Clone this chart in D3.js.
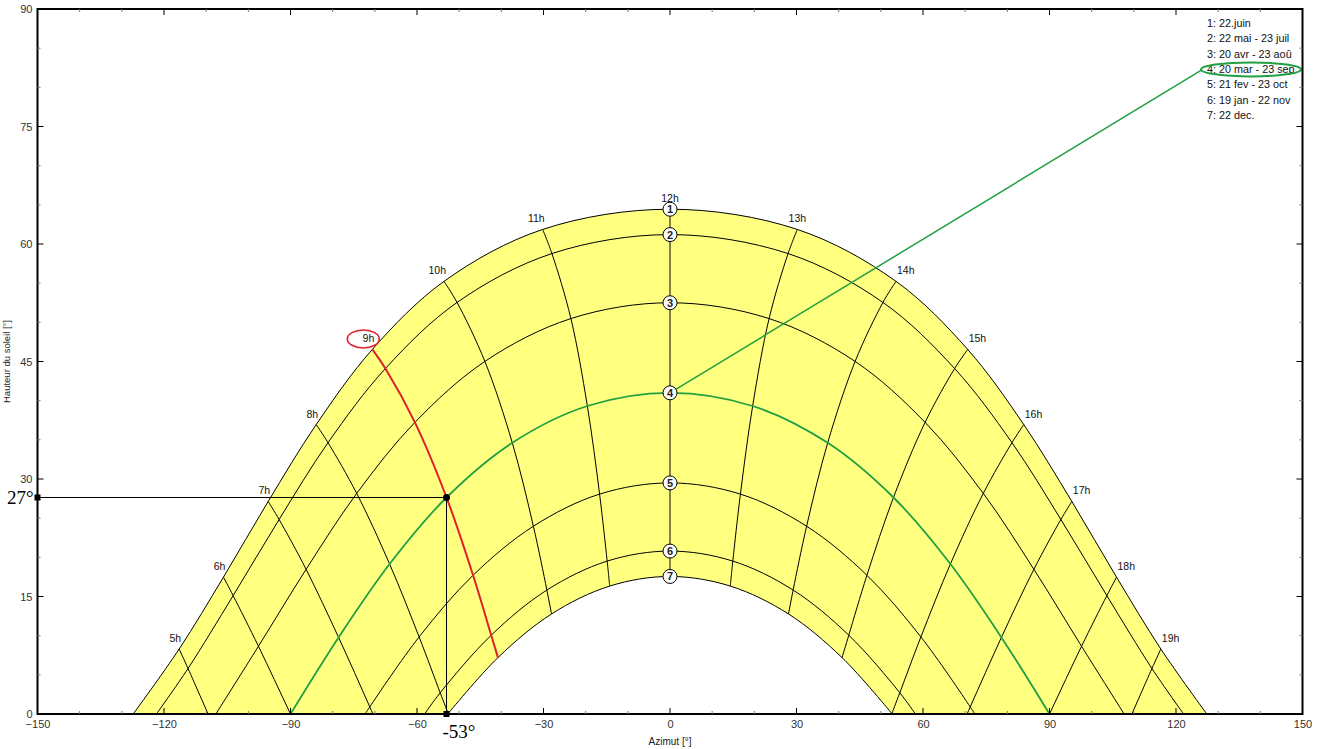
<!DOCTYPE html>
<html><head><meta charset="utf-8">
<script src="https://cdn.jsdelivr.net/npm/d3@7"></script>
<style>body{margin:0;background:#fff}svg{display:block}</style>
</head><body>
<svg id="c" width="1320" height="749"></svg>
<script>
// ---- data ----
const hourNames = ["5h","6h","7h","8h","9h","10h","11h","12h","13h","14h","15h","16h","17h","18h","19h"];
const curveNumbers = ["1","2","3","4","5","6","7"];
const legendLabels = ["1: 22.juin","2: 22 mai - 23 juil","3: 20 avr - 23 aoû","4: 20 mar - 23 sep","5: 21 fev - 23 oct","6: 19 jan - 22 nov","7: 22 dec."];
const azJun  = [-116.4,-105.9,-95.3,-83.9,-70.6,-53.6,-30.2,0,30.2,53.6,70.6,83.9,95.3,105.9,116.4];
const altJun = [8.30,17.47,27.13,36.95,46.54,55.23,61.86,64.44,61.86,55.23,46.54,36.95,27.13,17.47,8.30];
const azMay  = [-114.3,-103.6,-92.7,-81.1,-67.5,-50.5,-28.0,0,28.0,50.5,67.5,81.1,92.7,103.6,114.3];
const altMay = [5.81,15.11,24.83,34.64,44.10,52.54,58.78,61.20,58.78,52.54,44.10,34.64,24.83,15.11,5.81];
const azApr  = [-108.8,-97.6,-86.3,-74.3,-60.5,-43.9,-23.5,0,23.5,43.9,60.5,74.3,86.3,97.6,108.8];
const altApr = [-0.91,8.65,18.47,28.16,37.23,45.01,50.48,52.50,50.48,45.01,37.23,28.16,18.47,8.65,-0.91];
const azMar  = [null,-90,-78.6,-66.5,-53.0,-37.4,-19.6,0,19.6,37.4,53.0,66.5,78.6,90,null];
const altMar = [null,0,9.78,19.15,27.64,34.62,39.32,41.00,39.32,34.62,27.64,19.15,9.78,0,null];
const azFeb  = [null,-82.4,-71.2,-59.5,-46.7,-32.4,-16.7,0,16.7,32.4,46.7,59.5,71.2,82.4,null];
const altFeb = [null,-8.65,0.91,9.84,17.71,23.97,28.07,29.50,28.07,23.97,17.71,9.84,0.91,-8.65,null];
const azJan  = [null,null,-65.7,-54.5,-42.4,-29.2,-14.9,0,14.9,29.2,42.4,54.5,65.7,null,null];
const altJan = [null,null,-5.81,2.71,10.06,15.82,19.52,20.80,19.52,15.82,10.06,2.71,-5.81,null,null];
const azDec  = [null,null,null,-52.6,-40.8,-28.1,-14.3,0,14.3,28.1,40.8,52.6,null,null,null];
const altDec = [null,null,null,0.04,7.20,12.77,16.33,17.56,16.33,12.77,7.20,0.04,null,null,null];
const riseAz = [-127.3,-121.8,-107.7,-90,-72.3,-58.2,-52.7];
const setAz  = [127.3,121.8,107.7,90,72.3,58.2,52.7];
const xTicks = [-150,-120,-90,-60,-30,0,30,60,90,120,150];
const yTicks = [0,15,30,45,60,75,90];
const markAz = -53.0, markAlt = 27.64;
const markAltLabel = "27°", markAzLabel = "-53°";
const highlightHour = "9h", highlightCurve = 3;
const xTitle = "Azimut [°]", yTitle = "Hauteur du soleil [°]";

// ---- drawing ----
(function(){
const azAll = [azJun,azMay,azApr,azMar,azFeb,azJan,azDec];
const altAll = [altJun,altMay,altApr,altMar,altFeb,altJan,altDec];
const svg = d3.select("#c");
const x = d3.scaleLinear().domain([-150,150]).range([37.5,1302.5]);
const y = d3.scaleLinear().domain([0,90]).range([714,9]);
const font = "'Liberation Sans', Arial, sans-serif";
const GREEN = "#20a040", RED = "#e0202c";

svg.append("defs").append("clipPath").attr("id","plot").append("rect")
  .attr("x",x(-150)).attr("y",y(90)).attr("width",x(150)-x(-150)).attr("height",y(0)-y(90));

const cr = d3.line().x(d=>x(d[0])).y(d=>y(d[1])).curve(d3.curveCatmullRom.alpha(0.5));

function curvePts(k){
  const pts=[[riseAz[k],0]];
  azAll[k].forEach((a,i)=>{ const h=altAll[k][i]; if(a!==null && h>0.1) pts.push([a,h]); });
  pts.push([setAz[k],0]);
  return pts;
}
const curves = d3.range(7).map(curvePts);

// yellow band
const upperPath = cr(curves[0]);
const lowerPath = cr(curves[6].slice().reverse()).replace(/^M/,"L");
const g = svg.append("g").attr("clip-path","url(#plot)");
g.append("path").attr("d", upperPath + lowerPath + "Z").attr("fill","#ffff80").attr("stroke","none");

// date curves
curves.forEach((pts,k)=>{
  if(k===highlightCurve) return;
  g.append("path").attr("d",cr(pts)).attr("fill","none").attr("stroke","#000").attr("stroke-width",1);
});

// hour lines
const hourPts = hourNames.map((n,i)=>{
  const p=[]; for(let k=0;k<7;k++){ if(azAll[k][i]!==null) p.push([azAll[k][i],altAll[k][i]]); } return p;
});
hourNames.forEach((n,i)=>{
  if(n===highlightHour) return;
  g.append("path").attr("d",cr(hourPts[i])).attr("fill","none").attr("stroke","#000").attr("stroke-width",1);
});
// highlighted curve & hour
g.append("path").attr("d",cr(curves[highlightCurve])).attr("fill","none").attr("stroke",GREEN).attr("stroke-width",1.8);
const hi = hourNames.indexOf(highlightHour);
g.append("path").attr("d",cr(hourPts[hi])).attr("fill","none").attr("stroke",RED).attr("stroke-width",2);

// marker lines
svg.append("line").attr("x1",x(-150)).attr("x2",x(markAz)).attr("y1",y(markAlt)).attr("y2",y(markAlt)).attr("stroke","#000");
svg.append("line").attr("x1",x(markAz)).attr("x2",x(markAz)).attr("y1",y(markAlt)).attr("y2",y(0)).attr("stroke","#000");
svg.append("circle").attr("cx",x(markAz)).attr("cy",y(markAlt)).attr("r",3.5).attr("fill","#000");
svg.append("rect").attr("x",x(-150)-3).attr("y",y(markAlt)-3).attr("width",6).attr("height",6).attr("fill","#000");
svg.append("rect").attr("x",x(markAz)-3).attr("y",y(0)-3).attr("width",6).attr("height",6).attr("fill","#000");
svg.append("text").attr("x",x(-150)-4).attr("y",y(markAlt)+7).attr("text-anchor","end")
  .attr("font-family","'Liberation Serif','Times New Roman',serif").attr("font-size",19).text(markAltLabel);
svg.append("text").attr("x",x(markAz)-4).attr("y",y(0)+24).attr("text-anchor","start")
  .attr("font-family","'Liberation Serif','Times New Roman',serif").attr("font-size",19).text(markAzLabel);

// legend
const lgX = 1207, lgY0 = 27, lgStep = 15.3;
legendLabels.forEach((t,i)=>{
  svg.append("text").attr("x",lgX).attr("y",lgY0+i*lgStep).attr("font-family",font).attr("font-size",10.8)
    .attr("fill","#111").text(t);
});
const ecx = 1251, ecy = lgY0+highlightCurve*lgStep-3.5;
svg.append("line").attr("x1",x(0)).attr("y1",y(altAll[highlightCurve][7])).attr("x2",ecx-50).attr("y2",ecy+1)
  .attr("stroke",GREEN).attr("stroke-width",1.5);
svg.append("ellipse").attr("cx",ecx).attr("cy",ecy).attr("rx",50).attr("ry",7)
  .attr("fill","none").attr("stroke",GREEN).attr("stroke-width",2);

// number circles
curveNumbers.forEach((t,k)=>{
  const cy=y(altAll[k][7]);
  svg.append("circle").attr("cx",x(0)).attr("cy",cy).attr("r",7).attr("fill","#fff").attr("stroke","#000").attr("stroke-width",1);
  svg.append("text").attr("x",x(0)).attr("y",cy+4).attr("text-anchor","middle").attr("font-family",font)
    .attr("font-size",11).attr("font-weight","bold").attr("fill","#222").text(t);
});

// hour labels
hourNames.forEach((n,i)=>{
  const px=x(azJun[i]), py=y(altJun[i])-7;
  let anchor="start", dx=1;
  if(i<7){anchor="end";dx=2;} else if(i===7||i===8){anchor="middle";dx=0;}
  svg.append("text").attr("x",px+dx).attr("y",py).attr("text-anchor",anchor).attr("font-family",font)
    .attr("font-size",10.5).attr("fill","#111").text(n);
});
// red ellipse around highlighted hour label
svg.append("ellipse").attr("cx",x(azJun[hi])-9).attr("cy",y(altJun[hi])-10.5).attr("rx",16).attr("ry",9)
  .attr("fill","none").attr("stroke",RED).attr("stroke-width",1.6);

// frame
svg.append("rect").attr("x",x(-150)).attr("y",y(90)).attr("width",x(150)-x(-150)).attr("height",y(0)-y(90))
  .attr("fill","none").attr("stroke","#000").attr("stroke-width",2);

// ticks
const ax = svg.append("g");
const xMinor = d3.range(-150,151,10), yMinor = d3.range(0,91,5);
xMinor.forEach(v=>{
  const major = xTicks.includes(v), L = major?6:3, col = major?"#000":"#777";
  ax.append("line").attr("x1",x(v)).attr("x2",x(v)).attr("y1",y(0)).attr("y2",y(0)-L).attr("stroke",col);
  ax.append("line").attr("x1",x(v)).attr("x2",x(v)).attr("y1",y(90)).attr("y2",y(90)+L).attr("stroke",col);
});
yMinor.forEach(v=>{
  const major = yTicks.includes(v), L = major?6:3, col = major?"#000":"#777";
  ax.append("line").attr("x1",x(-150)).attr("x2",x(-150)+L).attr("y1",y(v)).attr("y2",y(v)).attr("stroke",col);
  ax.append("line").attr("x1",x(150)).attr("x2",x(150)-L).attr("y1",y(v)).attr("y2",y(v)).attr("stroke",col);
});
const xa = d3.axisBottom(x).tickValues(xTicks).tickSize(0).tickPadding(6).tickFormat(d3.format("d"));
svg.append("g").attr("transform",`translate(0,${y(0)})`).call(xa)
  .call(s=>s.select(".domain").remove())
  .call(s=>s.selectAll("text").attr("font-family",font).attr("font-size",11).attr("fill","#333"));
const ya = d3.axisLeft(y).tickValues(yTicks).tickSize(0).tickPadding(5).tickFormat(d3.format("d"));
svg.append("g").attr("transform",`translate(${x(-150)},0)`).call(ya)
  .call(s=>s.select(".domain").remove())
  .call(s=>s.selectAll("text").attr("font-family",font).attr("font-size",11).attr("fill","#333"));

svg.append("text").attr("x",x(0)).attr("y",745).attr("text-anchor","middle").attr("font-family",font)
  .attr("font-size",10).attr("fill","#222").text(xTitle);
svg.append("text").attr("transform",`translate(10,${y(45)}) rotate(-90)`).attr("text-anchor","middle")
  .attr("font-family",font).attr("font-size",9.5).attr("fill","#222").text(yTitle);
})();
</script>
</body></html>
